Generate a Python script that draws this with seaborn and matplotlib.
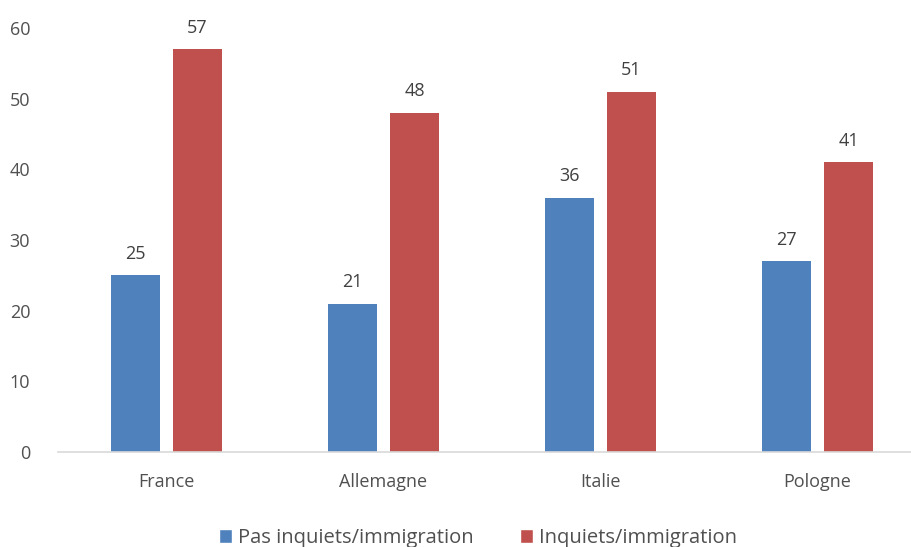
import matplotlib
matplotlib.use("Agg")
import matplotlib.pyplot as plt
import seaborn as sns
import pandas as pd
from matplotlib.patches import Patch

categories = ["France", "Allemagne", "Italie", "Pologne"]
series_names = ["Pas inquiets/immigration", "Inquiets/immigration"]
pas_inquiets = [25, 21, 36, 27]
inquiets = [57, 48, 51, 41]
colors = ["#4F81BD", "#C0504D"]

df = pd.DataFrame({
    "pays": categories * 2,
    "serie": [series_names[0]] * 4 + [series_names[1]] * 4,
    "valeur": pas_inquiets + inquiets,
})

sns.set_theme(style="white")
plt.rcParams["font.family"] = ["Open Sans", "DejaVu Sans"]

fig = plt.figure(figsize=(9.12, 5.47), dpi=100)
ax = fig.add_axes([58 / 912, 1 - 452 / 547, 868 / 912, (452 - 28) / 547])

sns.barplot(data=df, x="pays", y="valeur", hue="serie", palette=colors,
            width=0.571, gap=0.21, ax=ax, legend=False, saturation=1,
            linewidth=0, edgecolor="none")

for c in ax.containers:
    ax.bar_label(c, fmt="%g", padding=9, fontsize=13, color="#404040")

ax.set_xlim(-0.5, 3.5)
ax.set_ylim(0, 60)
ax.set_yticks(range(0, 61, 10))
ax.set_xlabel("")
ax.set_ylabel("")
for s in ["top", "right", "left"]:
    ax.spines[s].set_visible(False)
ax.spines["bottom"].set_color("#D9D9D9")
ax.spines["bottom"].set_linewidth(1.2)
ax.tick_params(axis="both", length=0, labelsize=13, colors="#505050")
ax.tick_params(axis="x", pad=15)
ax.tick_params(axis="y", pad=20)

handles = [Patch(facecolor=colors[0]), Patch(facecolor=colors[1])]
fig.legend(handles, series_names, loc="center", bbox_to_anchor=(478 / 912, 1 - 538 / 547),
           ncol=2, frameon=False, fontsize=14.5, handlelength=0.65, handleheight=0.65,
           handletextpad=0.3, columnspacing=2.3, labelcolor="#505050")

fig.savefig("out.png", dpi=100)
